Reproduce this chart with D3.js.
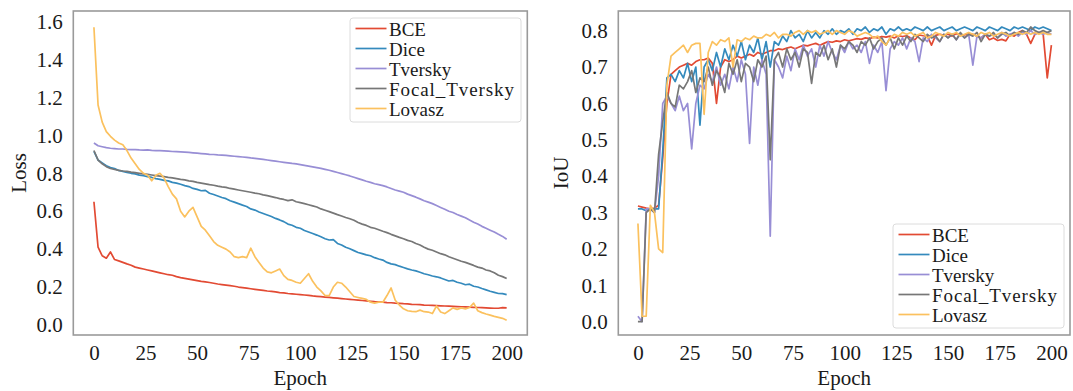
<!DOCTYPE html>
<html>
<head>
<meta charset="utf-8">
<script src="https://cdn.jsdelivr.net/npm/d3@7"></script>
<style>
  body { margin: 0; background: #fff; }
  svg text { font-family: "Liberation Serif", "Times New Roman", serif; fill: #1a1a1a; }
</style>
</head>
<body>
<svg id="chart" width="1073" height="391"></svg>
<script>
// epochs are sampled every 2 (0..200)
const epochs = d3.range(0, 201, 2);
const seriesNames = ["BCE", "Dice", "Tversky", "Focal_Tversky", "Lovasz"];
const xTicks = [0, 25, 50, 75, 100, 125, 150, 175, 200];
const lossTicks = [0.0, 0.2, 0.4, 0.6, 0.8, 1.0, 1.2, 1.4, 1.6];
const iouTicks = [0.0, 0.1, 0.2, 0.3, 0.4, 0.5, 0.6, 0.7, 0.8];

// ---- loss values (left panel)
const lossBCE = [
  0.65,0.41,0.365,0.352,0.385,0.345,0.338,0.33,0.322,0.315,
  0.305,0.30,0.295,0.29,0.285,0.28,0.275,0.27,0.265,0.262,
  0.255,0.25,0.246,0.242,0.238,0.234,0.23,0.227,0.224,0.22,
  0.216,0.213,0.21,0.207,0.204,0.2,0.197,0.194,0.191,0.188,
  0.185,0.182,0.179,0.177,0.174,0.171,0.169,0.166,0.164,0.162,
  0.16,0.158,0.156,0.153,0.151,0.149,0.147,0.145,0.143,0.141,
  0.139,0.137,0.135,0.133,0.131,0.129,0.127,0.125,0.123,0.122,
  0.12,0.118,0.117,0.115,0.114,0.112,0.111,0.109,0.108,0.107,
  0.105,0.104,0.103,0.102,0.101,0.1,0.099,0.098,0.097,0.096,
  0.095,0.094,0.093,0.092,0.091,0.09,0.089,0.088,0.088,0.091,
  0.09];
const lossDice = [
  0.915,0.87,0.855,0.84,0.83,0.825,0.815,0.81,0.805,0.80,
  0.797,0.79,0.787,0.782,0.778,0.772,0.768,0.763,0.76,0.752,
  0.748,0.742,0.735,0.73,0.72,0.715,0.708,0.71,0.695,0.688,
  0.68,0.672,0.666,0.655,0.648,0.64,0.632,0.625,0.612,0.606,
  0.596,0.588,0.58,0.572,0.562,0.554,0.545,0.532,0.526,0.515,
  0.51,0.498,0.49,0.482,0.474,0.465,0.455,0.448,0.45,0.43,
  0.422,0.41,0.402,0.392,0.382,0.376,0.37,0.365,0.355,0.348,
  0.342,0.33,0.322,0.318,0.31,0.303,0.296,0.29,0.285,0.278,
  0.27,0.265,0.258,0.254,0.248,0.24,0.232,0.235,0.225,0.22,
  0.212,0.215,0.204,0.2,0.192,0.185,0.178,0.172,0.166,0.165,
  0.16];
const lossTversky = [
  0.96,0.945,0.94,0.935,0.932,0.93,0.928,0.928,0.926,0.925,
  0.925,0.923,0.922,0.923,0.921,0.92,0.919,0.918,0.917,0.915,
  0.914,0.913,0.912,0.91,0.908,0.906,0.904,0.902,0.9,0.899,
  0.897,0.896,0.894,0.892,0.89,0.888,0.886,0.884,0.881,0.879,
  0.876,0.873,0.87,0.867,0.864,0.861,0.858,0.855,0.852,0.85,
  0.846,0.842,0.838,0.834,0.83,0.826,0.821,0.816,0.81,0.804,
  0.798,0.792,0.786,0.779,0.772,0.765,0.758,0.752,0.745,0.74,
  0.735,0.728,0.72,0.712,0.706,0.70,0.69,0.682,0.674,0.665,
  0.655,0.648,0.64,0.63,0.62,0.61,0.6,0.593,0.583,0.574,
  0.565,0.553,0.542,0.532,0.52,0.51,0.5,0.49,0.478,0.467,
  0.452];
const lossFocal = [
  0.92,0.87,0.85,0.835,0.825,0.82,0.815,0.812,0.81,0.806,
  0.803,0.80,0.797,0.794,0.791,0.788,0.785,0.782,0.778,0.776,
  0.772,0.768,0.765,0.76,0.757,0.752,0.748,0.744,0.74,0.737,
  0.732,0.728,0.726,0.72,0.716,0.712,0.708,0.704,0.70,0.695,
  0.692,0.686,0.682,0.677,0.672,0.666,0.662,0.656,0.66,0.65,
  0.645,0.64,0.634,0.628,0.622,0.612,0.605,0.598,0.59,0.582,
  0.575,0.567,0.56,0.552,0.54,0.532,0.525,0.515,0.51,0.502,
  0.494,0.487,0.478,0.47,0.462,0.455,0.446,0.44,0.43,0.422,
  0.41,0.4,0.394,0.385,0.376,0.37,0.36,0.352,0.344,0.336,
  0.33,0.322,0.314,0.305,0.3,0.29,0.285,0.275,0.262,0.255,
  0.245];
const lossLovasz = [
  1.57,1.16,1.07,1.02,0.995,0.975,0.96,0.95,0.92,0.88,
  0.85,0.82,0.80,0.79,0.76,0.79,0.80,0.775,0.73,0.69,
  0.665,0.6,0.57,0.6,0.62,0.57,0.52,0.5,0.47,0.44,
  0.42,0.41,0.40,0.385,0.36,0.355,0.36,0.355,0.405,0.36,
  0.33,0.30,0.28,0.275,0.285,0.295,0.26,0.24,0.235,0.225,
  0.22,0.245,0.27,0.23,0.2,0.18,0.155,0.155,0.2,0.225,
  0.22,0.2,0.175,0.15,0.145,0.14,0.135,0.12,0.115,0.12,
  0.12,0.155,0.195,0.13,0.105,0.085,0.075,0.072,0.07,0.078,
  0.07,0.068,0.06,0.1,0.068,0.06,0.075,0.09,0.082,0.09,
  0.085,0.092,0.115,0.075,0.065,0.058,0.052,0.045,0.04,0.035,
  0.025];

// ---- IoU values (right panel)
const iouBCE = [
  0.318,0.315,0.312,0.31,0.312,0.32,0.45,0.6,0.68,0.69,
  0.70,0.705,0.71,0.705,0.715,0.72,0.72,0.725,0.71,0.6,
  0.70,0.72,0.715,0.72,0.73,0.725,0.73,0.735,0.73,0.74,
  0.735,0.74,0.745,0.745,0.75,0.748,0.752,0.755,0.75,0.755,
  0.76,0.758,0.762,0.765,0.76,0.765,0.77,0.768,0.772,0.77,
  0.775,0.772,0.775,0.778,0.776,0.78,0.778,0.782,0.78,0.784,
  0.782,0.785,0.78,0.786,0.784,0.786,0.78,0.775,0.788,0.786,
  0.785,0.76,0.787,0.79,0.788,0.79,0.785,0.792,0.79,0.788,
  0.792,0.79,0.785,0.78,0.79,0.775,0.78,0.773,0.776,0.772,
  0.79,0.785,0.795,0.8,0.79,0.765,0.79,0.795,0.792,0.67,
  0.76];
const iouDice = [
  0.31,0.31,0.305,0.31,0.31,0.31,0.47,0.67,0.68,0.66,
  0.69,0.67,0.71,0.66,0.7,0.54,0.7,0.72,0.69,0.74,
  0.7,0.75,0.72,0.76,0.73,0.77,0.72,0.76,0.74,0.78,
  0.72,0.77,0.7,0.77,0.76,0.785,0.77,0.8,0.78,0.79,
  0.77,0.8,0.78,0.795,0.78,0.8,0.79,0.805,0.79,0.8,
  0.795,0.805,0.79,0.805,0.8,0.81,0.795,0.805,0.8,0.81,
  0.79,0.805,0.8,0.81,0.8,0.805,0.8,0.81,0.805,0.8,
  0.81,0.8,0.805,0.81,0.8,0.805,0.81,0.8,0.805,0.81,
  0.805,0.8,0.81,0.805,0.8,0.81,0.805,0.8,0.81,0.805,
  0.8,0.81,0.805,0.81,0.805,0.8,0.81,0.805,0.81,0.805,
  0.8];
const iouTversky = [
  0.015,0.0,0.31,0.31,0.3,0.4,0.6,0.62,0.6,0.58,
  0.62,0.58,0.6,0.475,0.6,0.65,0.64,0.68,0.66,0.7,
  0.65,0.68,0.64,0.7,0.66,0.72,0.68,0.49,0.7,0.65,
  0.72,0.68,0.235,0.72,0.7,0.67,0.73,0.69,0.75,0.72,
  0.76,0.73,0.75,0.7,0.76,0.73,0.77,0.74,0.72,0.76,
  0.74,0.77,0.75,0.76,0.74,0.77,0.71,0.76,0.74,0.77,
  0.635,0.75,0.77,0.76,0.78,0.75,0.78,0.77,0.715,0.78,
  0.77,0.79,0.78,0.77,0.79,0.78,0.79,0.775,0.79,0.78,
  0.79,0.705,0.785,0.78,0.79,0.785,0.79,0.78,0.795,0.785,
  0.79,0.795,0.785,0.795,0.79,0.8,0.79,0.795,0.79,0.795,
  0.79];
const iouFocal = [
  0.0,0.0,0.3,0.31,0.3,0.46,0.55,0.63,0.6,0.59,
  0.65,0.64,0.66,0.69,0.63,0.67,0.66,0.7,0.65,0.69,
  0.67,0.63,0.71,0.68,0.72,0.66,0.71,0.7,0.66,0.72,
  0.7,0.73,0.445,0.72,0.74,0.7,0.75,0.72,0.74,0.7,
  0.75,0.74,0.655,0.74,0.73,0.76,0.72,0.75,0.7,0.76,
  0.75,0.77,0.76,0.74,0.77,0.76,0.78,0.75,0.77,0.78,
  0.76,0.78,0.75,0.78,0.76,0.785,0.77,0.79,0.78,0.77,
  0.79,0.78,0.785,0.77,0.79,0.78,0.79,0.775,0.795,0.78,
  0.79,0.785,0.795,0.77,0.79,0.785,0.795,0.78,0.79,0.795,
  0.785,0.795,0.79,0.8,0.795,0.81,0.8,0.795,0.8,0.795,
  0.8];
const iouLovasz = [
  0.27,0.015,0.015,0.32,0.3,0.2,0.19,0.65,0.73,0.74,
  0.75,0.76,0.74,0.76,0.765,0.765,0.57,0.74,0.77,0.76,
  0.775,0.77,0.78,0.7,0.775,0.77,0.78,0.775,0.785,0.78,
  0.78,0.79,0.785,0.795,0.78,0.79,0.79,0.785,0.795,0.8,
  0.79,0.8,0.795,0.8,0.79,0.795,0.8,0.79,0.8,0.795,
  0.79,0.8,0.795,0.785,0.79,0.795,0.79,0.78,0.785,0.77,
  0.76,0.78,0.79,0.785,0.795,0.79,0.795,0.785,0.79,0.795,
  0.78,0.785,0.795,0.79,0.785,0.795,0.79,0.795,0.785,0.79,
  0.795,0.79,0.785,0.795,0.79,0.795,0.785,0.79,0.795,0.79,
  0.785,0.79,0.795,0.79,0.795,0.79,0.795,0.79,0.795,0.79,
  0.79];

const colors = ["#E24A33", "#348ABD", "#988ED5", "#777777", "#FBC15E"];
const fontSize = 21;
const legendFont = 19;

const svg = d3.select("#chart");

function drawPanel(p) {
  const x = d3.scaleLinear().domain(p.xDomain).range([p.left, p.right]);
  const y = d3.scaleLinear().domain(p.yDomain).range([p.bottom, p.top]);
  const g = svg.append("g");

  // lines
  const line = d3.line()
    .x((d, i) => x(epochs[i]))
    .y(d => y(d));
  p.series.forEach(function(s, k) {
    g.append("path")
      .datum(s)
      .attr("fill", "none")
      .attr("stroke", colors[k])
      .attr("stroke-width", 1.7)
      .attr("stroke-linejoin", "round")
      .attr("d", line);
  });

  // frame
  g.append("rect")
    .attr("x", p.left).attr("y", p.top)
    .attr("width", p.right - p.left).attr("height", p.bottom - p.top)
    .attr("fill", "none").attr("stroke", "#9a9a9a").attr("stroke-width", 1.6);

  // x axis
  const xa = g.append("g")
    .attr("transform", "translate(0," + p.bottom + ")")
    .call(d3.axisBottom(x).tickValues(xTicks).tickSize(0).tickPadding(10));
  // y axis
  const ya = g.append("g")
    .attr("transform", "translate(" + p.left + ",0)")
    .call(d3.axisLeft(y).tickValues(p.yTicks).tickSize(0).tickPadding(10.5).tickFormat(d3.format(".1f")));
  [xa, ya].forEach(function(a) {
    a.select(".domain").remove();
    a.selectAll("text")
      .attr("font-family", null)
      .style("font-size", fontSize + "px")
      .style("fill", "#1a1a1a");
  });

  // axis titles
  g.append("text")
    .attr("x", (p.left + p.right) / 2).attr("y", 385)
    .attr("text-anchor", "middle")
    .style("font-size", fontSize + "px")
    .text("Epoch");
  g.append("text")
    .attr("transform", "translate(" + p.yLabelX + "," + ((p.top + p.bottom) / 2) + ") rotate(-90)")
    .attr("text-anchor", "middle")
    .style("font-size", fontSize + "px")
    .text(p.yLabel);

  // legend
  const lg = g.append("g").attr("transform", "translate(" + p.legend.x + "," + p.legend.y + ")");
  lg.append("rect")
    .attr("width", 171).attr("height", 104)
    .attr("rx", 3)
    .attr("fill", "#fff").attr("fill-opacity", 0.8)
    .attr("stroke", "#dcdcdc").attr("stroke-width", 1);
  seriesNames.forEach(function(name, k) {
    const ry = 10.5 + k * 20;
    lg.append("line")
      .attr("x1", 5.5).attr("x2", 36.5)
      .attr("y1", ry).attr("y2", ry)
      .attr("stroke", colors[k]).attr("stroke-width", 1.7);
    lg.append("text")
      .attr("x", 39).attr("y", ry + 7)
      .style("font-size", legendFont + "px")
      .attr("textLength", name === "Focal_Tversky" ? 125 : null)
      .text(name);
  });
}

drawPanel({
  left: 73.3, right: 527.3, top: 11, bottom: 335,
  xDomain: [-10, 210], yDomain: [-0.053, 1.656],
  yTicks: lossTicks, yLabel: "Loss", yLabelX: 26,
  series: [lossBCE, lossDice, lossTversky, lossFocal, lossLovasz],
  legend: {x: 350, y: 18}
});

drawPanel({
  left: 618.3, right: 1070, top: 11, bottom: 335,
  xDomain: [-9.5, 209], yDomain: [-0.0366, 0.854],
  yTicks: iouTicks, yLabel: "IoU", yLabelX: 568,
  series: [iouBCE, iouDice, iouTversky, iouFocal, iouLovasz],
  legend: {x: 893, y: 224}
});
</script>
</body>
</html>
